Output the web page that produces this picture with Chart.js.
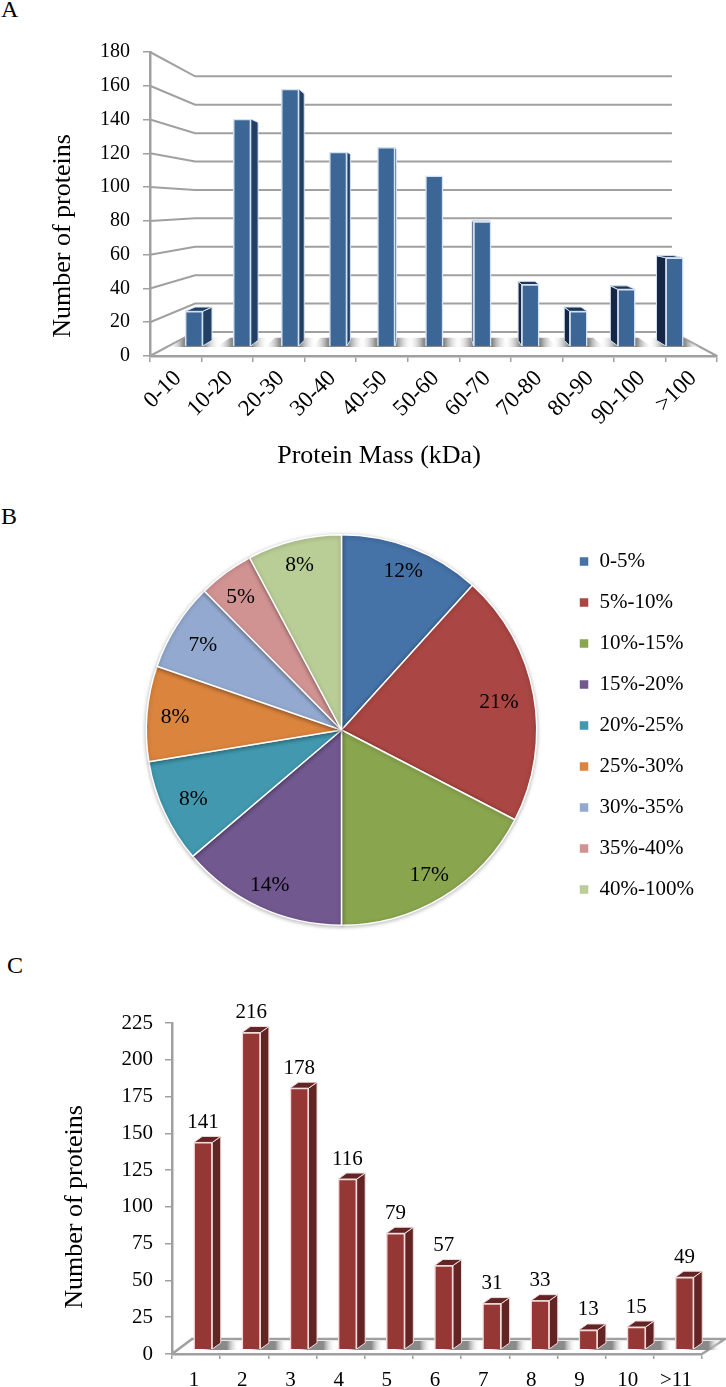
<!DOCTYPE html>
<html>
<head>
<meta charset="utf-8">
<title>Protein charts</title>
<script src="https://cdn.jsdelivr.net/npm/chart.js@4"></script>
<style>
    html, body { margin: 0; padding: 0; background: #fff; }
    body { position: relative; width: 726px; height: 1387px; overflow: hidden; }
    canvas { position: absolute; left: 0; }
    .panel { position: absolute; font: 24px "Liberation Serif", serif; color: #000; line-height: 24px; }
</style>
</head>
<body>
<div class="panel" style="left:1px;top:-3px">A</div>
<div class="panel" style="left:1px;top:504px">B</div>
<div class="panel" style="left:7px;top:953px">C</div>
<canvas id="massChart" width="726" height="500" style="top:0"></canvas>
<canvas id="pieChart" width="726" height="450" style="top:500px"></canvas>
<canvas id="countChart" width="726" height="437" style="top:950px"></canvas>
<script>
const FONT = "'Liberation Serif', serif";
const LINE = "#a0a0a0";

// panel A
const massBins = ["0-10", "10-20", "20-30", "30-40", "40-50", "50-60", "60-70", "70-80", "80-90", "90-100", ">100"];
const massTicks = [0, 20, 40, 60, 80, 100, 120, 140, 160, 180];
const massCounts = [22, 144, 163, 123, 126, 108, 79, 39, 22, 36, 56];

// panel B: slice sizes as measured, printed percentages as they stand on the figure
const pieLabels = ["0-5%", "5%-10%", "10%-15%", "15%-20%", "20%-25%", "25%-30%", "30%-35%", "35%-40%", "40%-100%"];
const pieValues = [11.7, 20.9, 17.4, 13.8, 8.6, 7.9, 7.3, 4.6, 7.8];
const piePercents = [12, 21, 17, 14, 8, 8, 7, 5, 8];
const pieColors = ["#4572a7", "#aa4643", "#89a54e", "#71588f", "#4198af", "#db843d", "#93a9cf", "#d19392", "#b9cd96"];

// panel C
const countBins = ["1", "2", "3", "4", "5", "6", "7", "8", "9", "10", ">11"];
const countTicks = [0, 25, 50, 75, 100, 125, 150, 175, 200, 225];
const countValues = [141, 216, 178, 116, 79, 57, 31, 33, 13, 15, 49];

function captions(list) {
    return {
        id: "captions",
        afterDraw(chart) {
            const ctx = chart.ctx;
            list.forEach(c => {
                ctx.save();
                ctx.translate(c.x, c.y);
                ctx.rotate(c.rotate || 0);
                ctx.font = `${c.size}px ${FONT}`;
                ctx.fillStyle = "#000";
                ctx.textAlign = "center";
                ctx.textBaseline = "middle";
                ctx.fillText(c.text, 0, 0);
                ctx.restore();
            });
        }
    };
}

function poly(ctx, pts, fill, stroke) {
    ctx.beginPath();
    pts.forEach((p, i) => i ? ctx.lineTo(p[0], p[1]) : ctx.moveTo(p[0], p[1]));
    ctx.closePath();
    if (fill) { ctx.fillStyle = fill; ctx.fill(); }
    if (stroke) { ctx.strokeStyle = stroke; ctx.lineWidth = 1; ctx.stroke(); }
}

function floorShadow(ctx, x0, x1, pts) {
    const g = ctx.createLinearGradient(x0, 0, x1, 0);
    g.addColorStop(0, "rgba(255,255,255,0)");
    g.addColorStop(0.3, "#8a8a8a");
    g.addColorStop(0.7, "#8a8a8a");
    g.addColorStop(1, "rgba(255,255,255,0)");
    poly(ctx, pts, g);
}

// walls and bar sides of panel A, they all run towards one vanishing point
const VP = { x: 433.5, y: 205 };
const project = (x, y, f) => [x + (VP.x - x) * f, y + (VP.y - y) * f];

const perspective = {
    id: "perspective",
    beforeDatasetsDraw(chart) {
        const ctx = chart.ctx;
        const area = chart.chartArea;
        const yScale = chart.scales.y;
        const wall = 0.159;
        const depth = 0.04;
        ctx.save();
        ctx.strokeStyle = LINE;
        ctx.lineWidth = 2;
        yScale.ticks.forEach((t, i) => {
            const y = yScale.getPixelForTick(i);
            const a = project(area.left, y, wall);
            const b = project(area.right, y, wall);
            ctx.beginPath();
            ctx.moveTo(area.left, y);
            ctx.lineTo(a[0], a[1]);
            ctx.lineTo(b[0], b[1]);
            ctx.stroke();
        });
        const p = project(area.right, area.bottom, wall);
        ctx.beginPath();
        ctx.moveTo(area.right, area.bottom);
        ctx.lineTo(p[0], p[1]);
        ctx.stroke();

        const bars = chart.getDatasetMeta(0).data;
        bars.forEach(bar => {
            const b = bar.base + 1;
            const x0 = bar.x - 26, x1 = bar.x + 26;
            floorShadow(ctx, x0, x1, [[x0, b], [x1, b], project(x1, b, 0.065), project(x0, b, 0.065)]);
        });
        bars.forEach(bar => {
            const l = bar.x - bar.width / 2, r = bar.x + bar.width / 2;
            const edge = "#d6e2f0";
            if (r < VP.x) {
                poly(ctx, [[r, bar.y], [r, bar.base], project(r, bar.base, depth), project(r, bar.y, depth)], "#223f66", edge);
            } else if (l > VP.x) {
                poly(ctx, [[l, bar.y], [l, bar.base], project(l, bar.base, depth), project(l, bar.y, depth)], "#152744", edge);
            }
            if (bar.y > VP.y) {
                poly(ctx, [[l, bar.y], [r, bar.y], project(r, bar.y, depth), project(l, bar.y, depth)], r < VP.x ? "#223f66" : "#1c3558", edge);
            }
        });
        ctx.restore();
    }
};

// panel C is a plain oblique box
const oblique = {
    id: "oblique",
    beforeDatasetsDraw(chart) {
        const ctx = chart.ctx;
        const area = chart.chartArea;
        const dx = 8.5, dy = -6;
        ctx.save();
        ctx.strokeStyle = LINE;
        ctx.lineWidth = 2.5;
        ctx.beginPath();
        ctx.moveTo(area.left, area.bottom);
        ctx.lineTo(area.left + 20, area.bottom - 15);
        ctx.lineTo(area.right + 23, area.bottom - 15);
        ctx.lineTo(area.right, area.bottom);
        ctx.stroke();
        const bars = chart.getDatasetMeta(0).data;
        bars.forEach(bar => {
            const b = bar.base + 1;
            const x0 = bar.x - 4, x1 = bar.x + 36;
            floorShadow(ctx, x0, x1, [[x0, b], [x1, b], [x1 + 12, b - 9], [x0 + 12, b - 9]]);
        });
        bars.forEach(bar => {
            const l = bar.x - bar.width / 2, r = bar.x + bar.width / 2;
            const edge = "#f0dcdc";
            poly(ctx, [[r, bar.y], [r, bar.base], [r + dx, bar.base + dy], [r + dx, bar.y + dy]], "#632523", edge);
            poly(ctx, [[l, bar.y], [r, bar.y], [r + dx, bar.y + dy], [l + dx, bar.y + dy]], "#632523", edge);
        });
        ctx.restore();
    }
};

const countLabels = {
    id: "countLabels",
    afterDatasetsDraw(chart) {
        const ctx = chart.ctx;
        ctx.save();
        ctx.font = `21px ${FONT}`;
        ctx.fillStyle = "#000";
        ctx.textAlign = "center";
        ctx.textBaseline = "middle";
        chart.getDatasetMeta(0).data.forEach((bar, i) => {
            ctx.fillText(String(countValues[i]), bar.x, bar.y - 20);
        });
        ctx.restore();
    }
};

// small hand nudges, the figure's labels are not exactly on the slice middle
const pieNudge = [[2.5, -4.5], [-5, 1.5], [2, 4.5], [-2.5, 5.5], [1.5, 0.5], [-2, 1], [1, 3.5], [-3, 0.5], [-2, -5]];

const pieText = {
    id: "pieText",
    afterLayout(chart) {
        // the legend sits a little above the middle of the pie
        chart.legend.top -= 4.5;
        chart.legend.bottom -= 4.5;
    },
    beforeDatasetDraw(chart) {
        chart.ctx.save();
        chart.ctx.shadowColor = "rgba(0,0,0,0.28)";
        chart.ctx.shadowBlur = 4;
        chart.ctx.shadowOffsetY = 1;
    },
    afterDatasetDraw(chart) {
        chart.ctx.restore();
    },
    afterDatasetsDraw(chart) {
        const ctx = chart.ctx;
        ctx.save();
        ctx.font = `21.5px ${FONT}`;
        ctx.fillStyle = "#000";
        ctx.textAlign = "center";
        ctx.textBaseline = "middle";
        chart.getDatasetMeta(0).data.forEach((arc, i) => {
            const mid = (arc.startAngle + arc.endAngle) / 2;
            const r = arc.outerRadius * 0.845;
            const x = arc.x + Math.cos(mid) * r + pieNudge[i][0];
            const y = arc.y + Math.sin(mid) * r + pieNudge[i][1];
            ctx.fillText(piePercents[i] + "%", x, y);
        });
        ctx.restore();
    }
};

new Chart(document.getElementById("massChart"), {
    type: "bar",
    data: {
        labels: massBins,
        datasets: [{
            data: massCounts.map((v, i) => ({ x: i, y: v })),
            xAxisID: "xBars",
            yAxisID: "yBars",
            barThickness: 17.5,
            backgroundColor: "#3c6696",
            borderColor: "#d6e2f0",
            borderWidth: 1.5
        }]
    },
    options: {
        responsive: false,
        animation: false,
        layout: { padding: { top: 52, right: 9 } },
        plugins: { legend: { display: false }, tooltip: { enabled: false } },
        scales: {
            x: {
                type: "category",
                offset: true,
                afterFit: s => { s.height = 144; },
                grid: { offset: true, drawOnChartArea: false, color: LINE, lineWidth: 1.5, tickLength: 6 },
                border: { color: LINE, width: 2.5 },
                ticks: { color: "#000", font: { family: FONT, size: 23 }, maxRotation: 45, minRotation: 45, autoSkip: false, padding: 3, labelOffset: 2 }
            },
            y: {
                type: "linear",
                min: 0,
                max: 180,
                afterFit: s => { s.width = 150; },
                afterBuildTicks: s => { s.ticks = massTicks.map(v => ({ value: v })); },
                grid: { drawOnChartArea: false, color: LINE, lineWidth: 1.5, tickLength: 7 },
                border: { color: LINE, width: 2.5 },
                ticks: { color: "#000", font: { family: FONT, size: 20 }, padding: 13 }
            },
            xBars: { type: "linear", axis: "x", display: false, offset: false, min: -0.9157, max: 10.884, grid: { offset: false } },
            yBars: { type: "linear", axis: "y", display: false, min: -6.35, max: 186.5 }
        }
    },
    plugins: [perspective, captions([
        { text: "Number of proteins", x: 63, y: 236, rotate: -Math.PI / 2, size: 26 },
        { text: "Protein Mass (kDa)", x: 379, y: 456, size: 26 }
    ])]
});

new Chart(document.getElementById("pieChart"), {
    type: "pie",
    data: {
        labels: pieLabels,
        datasets: [{
            data: pieValues,
            backgroundColor: pieColors,
            borderColor: "#ffffff",
            borderWidth: 1.5
        }]
    },
    options: {
        responsive: false,
        animation: false,
        layout: { padding: { top: 34, bottom: 24, left: 124, right: 22 } },
        plugins: {
            tooltip: { enabled: false },
            legend: {
                position: "right",
                labels: { color: "#000", font: { family: FONT, size: 21 }, boxWidth: 10, boxHeight: 10, padding: 20 }
            }
        }
    },
    plugins: [pieText]
});

new Chart(document.getElementById("countChart"), {
    type: "bar",
    data: {
        labels: countBins,
        datasets: [{
            data: countValues.map((v, i) => ({ x: i, y: v })),
            xAxisID: "xBars",
            yAxisID: "yBars",
            barThickness: 18.5,
            backgroundColor: "#953735",
            borderColor: "#f0dcdc",
            borderWidth: 1.5
        }]
    },
    options: {
        responsive: false,
        animation: false,
        layout: { padding: { top: 73, right: 24 } },
        plugins: { legend: { display: false }, tooltip: { enabled: false } },
        scales: {
            x: {
                type: "category",
                offset: true,
                afterFit: s => { s.height = 33; },
                grid: { offset: true, drawOnChartArea: false, color: LINE, lineWidth: 1.5, tickLength: 5 },
                border: { color: LINE, width: 2.5 },
                ticks: { color: "#000", font: { family: FONT, size: 21 }, maxRotation: 0, autoSkip: false, padding: 9, labelOffset: -2 }
            },
            y: {
                type: "linear",
                min: 0,
                max: 225,
                afterFit: s => { s.width = 172; },
                afterBuildTicks: s => { s.ticks = countTicks.map(v => ({ value: v })); },
                grid: { drawOnChartArea: false, color: LINE, lineWidth: 1.5, tickLength: 7 },
                border: { color: LINE, width: 2.5 },
                ticks: { color: "#000", font: { family: FONT, size: 21 }, padding: 12 }
            },
            xBars: { type: "linear", axis: "x", display: false, offset: false, min: -0.6438, max: 10.364, grid: { offset: false } },
            yBars: { type: "linear", axis: "y", display: false, min: -3.41, max: 222.5 }
        }
    },
    plugins: [oblique, countLabels, captions([
        { text: "Number of proteins", x: 75, y: 257, rotate: -Math.PI / 2, size: 26 }
    ])]
});
</script>
</body>
</html>
